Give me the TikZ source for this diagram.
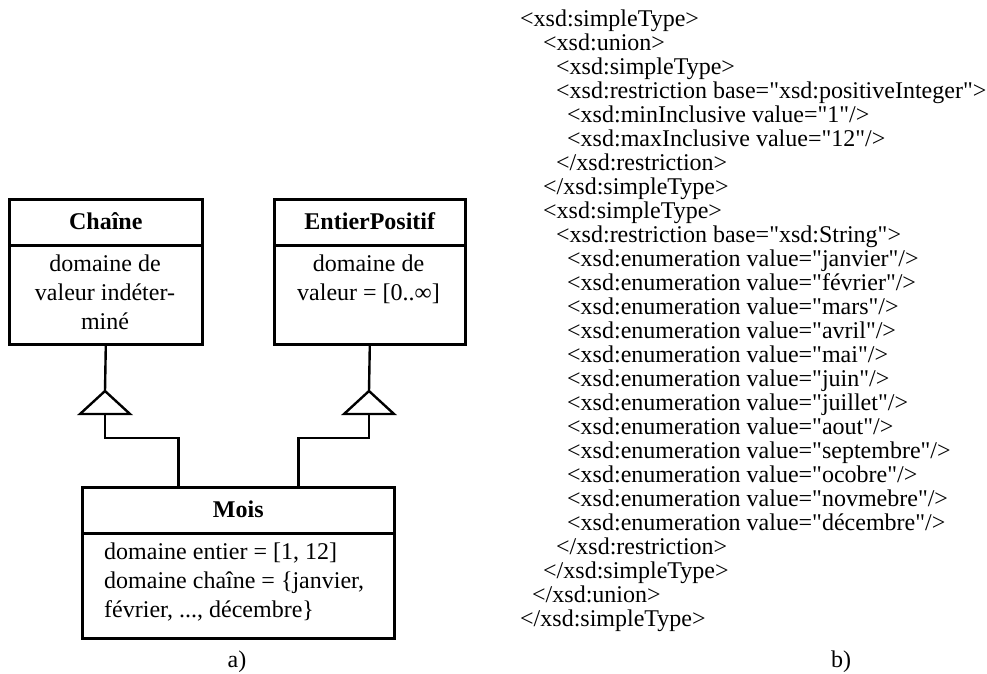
\documentclass[tikz,border=0pt]{standalone}
\usepackage{fontspec}
\setmainfont{Liberation Serif}[Ligatures=TeXOff]
\usetikzlibrary{calc}
\begin{document}
\begin{tikzpicture}[x=1pt,y=-1pt,
  txt/.style={font=\fontsize{24}{24}\selectfont, inner sep=0pt},
  hdr/.style={draw, line width=2.6pt, inner sep=0pt, anchor=north west, font=\fontsize{24}{24}\selectfont\bfseries},
  bodybox/.style={draw, line width=2.6pt, inner sep=0pt, anchor=north west},
  conn/.style={line width=2.4pt},
  tri/.style={line width=2.4pt, line join=miter},
  xml/.style={txt, anchor=base west}]
\useasboundingbox (0,0) rectangle (987,673);

% ---------- class boxes ----------
\node[bodybox, minimum width=193pt, minimum height=99pt] (chB) at (8,244) {};
\node[hdr, minimum width=193pt, minimum height=46pt] (chH) at (8,198) {\raisebox{2pt}{Chaîne}};
\node[txt, anchor=base] (ch1) at (105,271) {domaine de};
\node[txt, anchor=base] (ch2) at (105,300) {valeur indéter-};
\node[txt, anchor=base] (ch3) at (105,329) {miné};

\node[bodybox, minimum width=191pt, minimum height=99pt] (epB) at (273,244) {};
\node[hdr, minimum width=191pt, minimum height=46pt] (epH) at (273,198) {\raisebox{2pt}{EntierPositif}};
\node[txt, anchor=base] (ep1) at (368.5,271) {domaine de};
\node[txt, anchor=base] (ep2) at (368.5,300) {valeur = [0..∞]};

\node[bodybox, minimum width=312pt, minimum height=105pt] (moB) at (81,532) {};
\node[hdr, minimum width=312pt, minimum height=46pt] (moH) at (81,486) {\raisebox{2pt}{Mois}};
\node[txt, anchor=base west] (mo1) at (104,559) {domaine entier = [1, 12]};
\node[txt, anchor=base west] (mo2) at (104,588) {domaine chaîne = \{janvier,};
\node[txt, anchor=base west] (mo3) at (104,617) {février, ..., décembre\}};

% ---------- generalisation connectors ----------
\coordinate (apL) at (105,391);
\coordinate (baL) at (105,414);
\coordinate (apR) at (369,391);
\coordinate (baR) at (369,414);
\draw[conn] (chB.south) -- (apL);
\draw[tri] (apL) -- ($(baL)+(-25,0)$) -- ($(baL)+(25,0)$) -- cycle;
\draw[conn] (baL) -- ++(0,24) -| ([xshift=-60pt]moH.north);
\draw[conn] (epB.south) -- (apR);
\draw[tri] (apR) -- ($(baR)+(-25,0)$) -- ($(baR)+(25,0)$) -- cycle;
\draw[conn] (baR) -- ++(0,24) -| ([xshift=60pt]moH.north);

\node[txt, anchor=base] (la) at (237,667) {a)};

% ---------- XML ----------
\node[xml] (x1)  at (520,26)  {<xsd:simpleType>};
\node[xml] (x2)  at (543,50)  {<xsd:union>};
\node[xml] (x3)  at (556,74)  {<xsd:simpleType>};
\node[xml] (x4)  at (556,98)  {<xsd:restriction base="xsd:positiveInteger">};
\node[xml] (x5)  at (567,122) {<xsd:minInclusive value="1"/>};
\node[xml] (x6)  at (567,146) {<xsd:maxInclusive value="12"/>};
\node[xml] (x7)  at (556,170) {</xsd:restriction>};
\node[xml] (x8)  at (543,194) {</xsd:simpleType>};
\node[xml] (x9)  at (543,218) {<xsd:simpleType>};
\node[xml] (x10) at (556,242) {<xsd:restriction base="xsd:String">};
\node[xml] (x11) at (567,266) {<xsd:enumeration value="janvier"/>};
\node[xml] (x12) at (567,290) {<xsd:enumeration value="février"/>};
\node[xml] (x13) at (567,314) {<xsd:enumeration value="mars"/>};
\node[xml] (x14) at (567,338) {<xsd:enumeration value="avril"/>};
\node[xml] (x15) at (567,362) {<xsd:enumeration value="mai"/>};
\node[xml] (x16) at (567,386) {<xsd:enumeration value="juin"/>};
\node[xml] (x17) at (567,410) {<xsd:enumeration value="juillet"/>};
\node[xml] (x18) at (567,434) {<xsd:enumeration value="aout"/>};
\node[xml] (x19) at (567,458) {<xsd:enumeration value="septembre"/>};
\node[xml] (x20) at (567,482) {<xsd:enumeration value="ocobre"/>};
\node[xml] (x21) at (567,506) {<xsd:enumeration value="novmebre"/>};
\node[xml] (x22) at (567,530) {<xsd:enumeration value="décembre"/>};
\node[xml] (x23) at (556,554) {</xsd:restriction>};
\node[xml] (x24) at (543,578) {</xsd:simpleType>};
\node[xml] (x25) at (532,602) {</xsd:union>};
\node[xml] (x26) at (520,626) {</xsd:simpleType>};

\node[txt, anchor=base] (lb) at (841,667) {b)};
\end{tikzpicture}
\end{document}
